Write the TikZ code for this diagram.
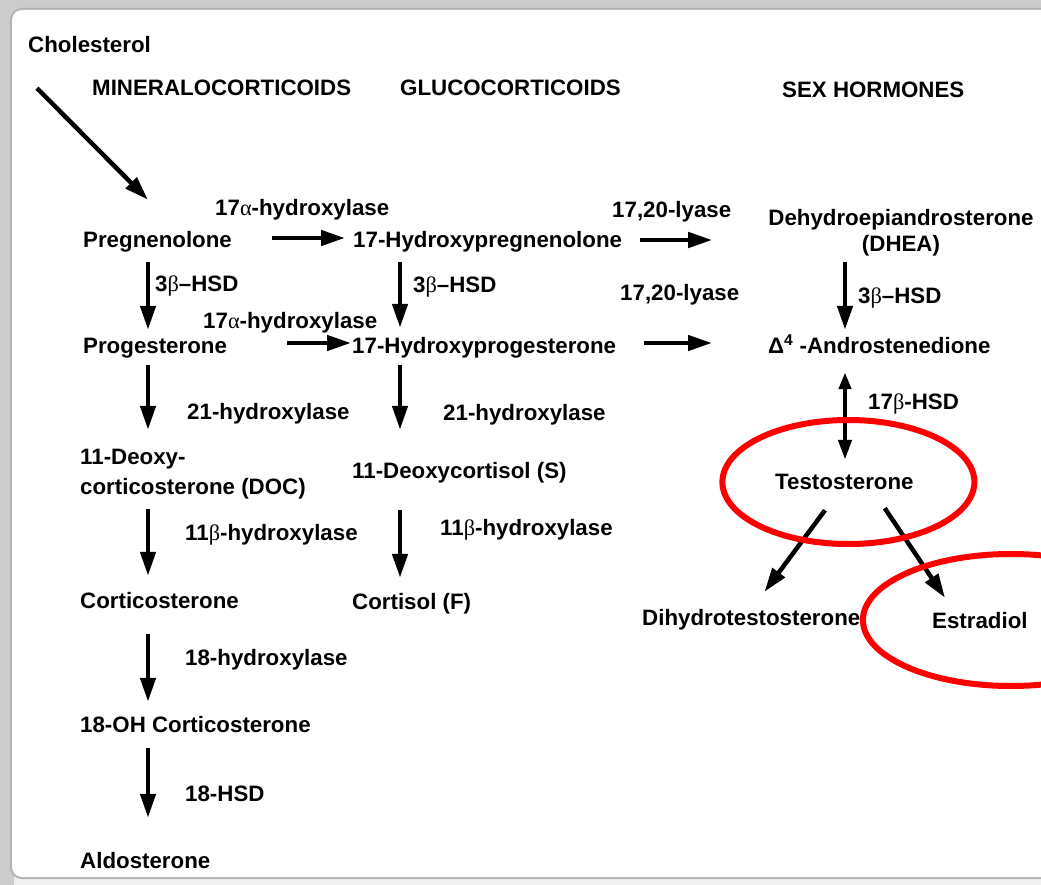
\documentclass[tikz,border=0pt]{standalone}
\usepackage{fontspec}
\setmainfont{Liberation Sans}
\newfontfamily\grk{Liberation Serif}
\usetikzlibrary{arrows.meta,calc}

\tikzset{
  chem/.style={anchor=west, inner sep=0pt, text height=16pt, text depth=0pt,
    font=\fontsize{22.3}{26}\selectfont\bfseries},
  chemtwo/.style={inner sep=0pt, font=\fontsize{22.3}{26}\selectfont\bfseries},
  enz/.style={chem},
  arr/.style={line width=4.5pt, -{Triangle[length=24pt,width=15pt]}},
  hilite/.style={draw=red, line width=6pt}
}

\begin{document}
\begin{tikzpicture}[x=1pt,y=-1pt]
  \useasboundingbox (0,0) rectangle (1041,885);
  \clip (0,0) rectangle (1041,885);
  \fill[gray!12] (0,0) rectangle (1041,885);
  \fill[gray!40] (0,0) rectangle (1041,12);
  \fill[gray!40] (0,0) rectangle (14,885);
  \draw[gray!60, line width=4pt, rounded corners=10pt] (12,10) rectangle (1080,877);
  \fill[white, rounded corners=10pt] (12,10) rectangle (1080,877);

  \node[chem] (chol)  at (28,45)  {Cholesterol};
  \node[chem] (mineral) at (92,88)  {MINERALOCORTICOIDS};
  \node[chem] (gluco) at (400,88) {GLUCOCORTICOIDS};
  \node[chem] (sex)   at (782,90) {SEX HORMONES};

  \node[chem] (preg)  at (83,240)  {Pregnenolone};
  \node[chem] (prog)  at (83,345)  {Progesterone};
  \node[chemtwo, anchor=west, align=left] (doc) at (80,474)
    {11-Deoxy-\\[4pt]corticosterone (DOC)};
  \node[chem] (corti) at (80,600)  {Corticosterone};
  \node[chem] (ohcorti) at (80,724) {18-OH Corticosterone};
  \node[chem] (aldo)  at (80,860)  {Aldosterone};

  \node[chem] (hpreg) at (353,240) {17-Hydroxypregnenolone};
  \node[chem] (hprog) at (352,345) {17-Hydroxyprogesterone};
  \node[chem] (deoxy) at (352,470) {11-Deoxycortisol (S)};
  \node[chem] (cortisol) at (352,601) {Cortisol (F)};

  \node[chemtwo, align=center] (dhea) at (901,233)
    {Dehydroepiandrosterone\\(DHEA)};
  \node[chem] (andro) at (768,345) {Δ\textsuperscript{4} -Androstenedione};
  \node[chem] (testo) at (775,481) {Testosterone};
  \node[chem] (dht)   at (642,617) {Dihydrotestosterone};
  \node[chem] (estr)  at (932,620) {Estradiol};

  \node[enz] (hyd17a) at (215,208) {17{\grk\textmd{α}}-hydroxylase};
  \node[enz] (hyd17b) at (203,320) {17{\grk\textmd{α}}-hydroxylase};
  \node[enz] (hsdl)   at (155,283) {3{\grk\textmd{β}}–HSD};
  \node[enz] (hsdm)   at (413,284) {3{\grk\textmd{β}}–HSD};
  \node[enz] (hsdr)   at (858,296) {3{\grk\textmd{β}}–HSD};
  \node[enz] (lyasea) at (612,210) {17,20-lyase};
  \node[enz] (lyaseb) at (620,293) {17,20-lyase};
  \node[enz] (hyd21l) at (187,411) {21-hydroxylase};
  \node[enz] (hyd21m) at (443,412) {21-hydroxylase};
  \node[enz] (hsd17)  at (868,401) {17{\grk\textmd{β}}-HSD};
  \node[enz] (hyd11l) at (185,532) {11{\grk\textmd{β}}-hydroxylase};
  \node[enz] (hyd11m) at (440,527) {11{\grk\textmd{β}}-hydroxylase};
  \node[enz] (hyd18)  at (185,657) {18-hydroxylase};
  \node[enz] (hsd18)  at (185,793) {18-HSD};

  \draw[arr] ($(chol.south west)+(9,35)$) -- ($(preg.north west)+(65,-32)$);
  \draw[arr] ($(preg.east)+(40,-2)$) -- ($(hpreg.west)+(-8,-2)$);
  \draw[arr] ($(hpreg.east)+(18,0)$) -- ($(dhea.west)+(-56,7)$);
  \draw[arr] ($(prog.east)+(60,-2)$) -- ($(hprog.west)+(-1,-2)$);
  \draw[arr] ($(hprog.east)+(28,-2)$) -- ($(andro.west)+(-56,-2)$);

  \draw[arr] ($(preg.south west)+(65,14)$) -- ($(prog.north west)+(65,-7)$);
  \draw[arr] ($(prog.south west)+(65,12)$) -- ($(doc.north west)+(68,-19)$);
  \draw[arr] ($(doc.south west)+(68,10)$) -- ($(corti.north west)+(68,-16)$);
  \draw[arr] ($(corti.south west)+(68,26)$) -- ($(ohcorti.north west)+(68,-14)$);
  \draw[arr] ($(ohcorti.south west)+(68,16)$) -- ($(aldo.north west)+(68,-34)$);

  \draw[arr] ($(hpreg.south west)+(47,14)$) -- ($(hprog.north west)+(48,-9)$);
  \draw[arr] ($(hprog.south west)+(48,12)$) -- ($(deoxy.north west)+(48,-32)$);
  \draw[arr] ($(deoxy.south west)+(48,32)$) -- ($(cortisol.north west)+(48,-15)$);

  \draw[arr] ($(dhea.south)+(-56,5)$) -- ($(andro.north west)+(77,-7)$);
  \draw[arr, {Triangle[length=17pt,width=12pt]}-{Triangle[length=20pt,width=13pt]}]
    ($(andro.south west)+(77,19)$) -- ($(testo.north west)+(70,-13)$);
  \draw[arr] ($(testo.south west)+(50,21)$) -- ($(dht.north east)+(-96,-17)$);
  \draw[arr] ($(testo.south east)+(-29,19)$) -- ($(estr.north west)+(13,-14)$);

  \draw[hilite] ($(testo)+(4,1)$) ellipse [x radius=126pt, y radius=62pt];
  \draw[hilite] ($(estr)+(31,0)$) ellipse [x radius=148pt, y radius=66pt];
\end{tikzpicture}
\end{document}
